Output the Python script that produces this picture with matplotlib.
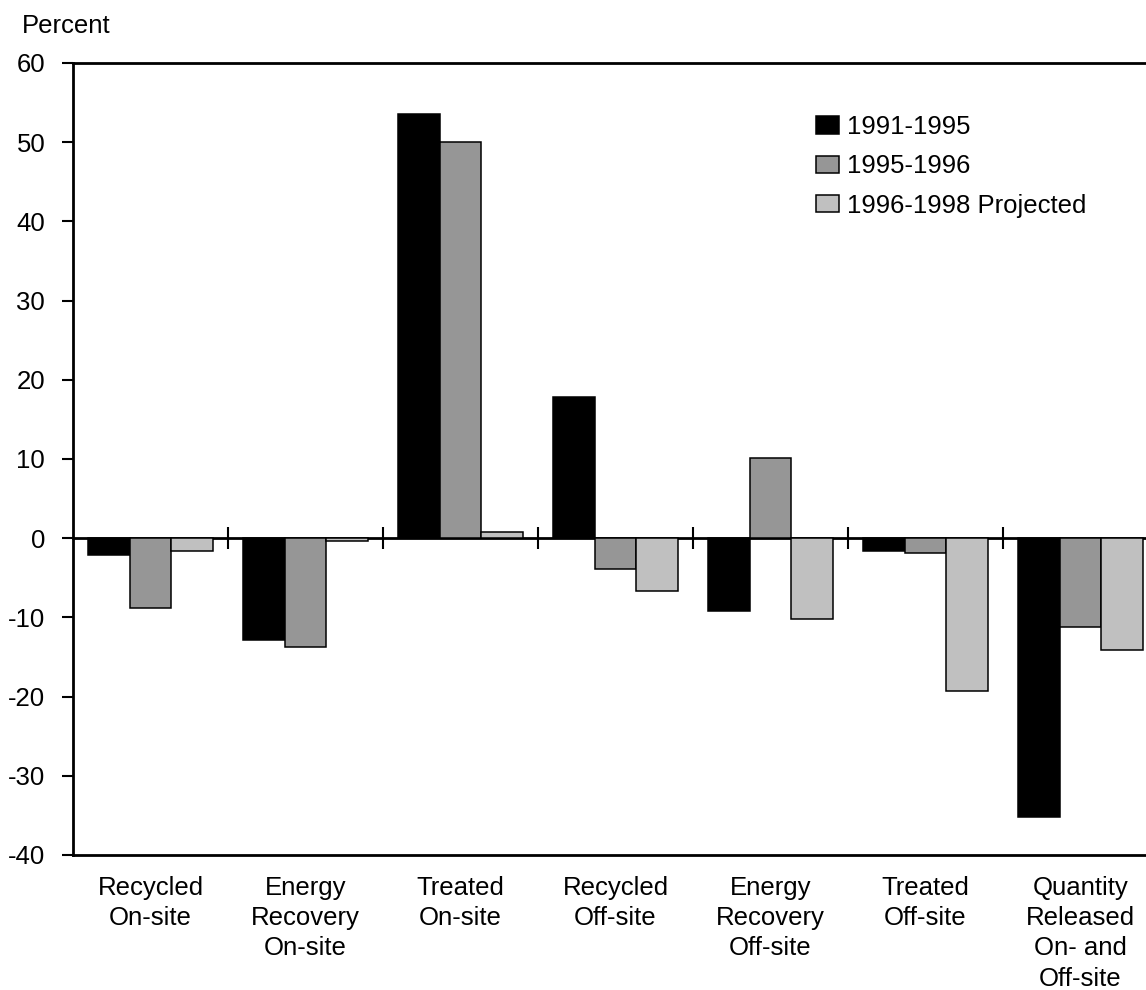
import matplotlib
matplotlib.use("Agg")
import matplotlib.pyplot as plt
import numpy as np

categories = ["Recycled\nOn-site", "Energy\nRecovery\nOn-site", "Treated\nOn-site",
              "Recycled\nOff-site", "Energy\nRecovery\nOff-site", "Treated\nOff-site",
              "Quantity\nReleased\nOn- and\nOff-site"]
series_names = ["1991-1995", "1995-1996", "1996-1998 Projected"]
v_1991_1995 = [-2.1, -12.9, 53.6, 17.8, -9.2, -1.6, -35.2]
v_1995_1996 = [-8.8, -13.8, 50.0, -3.9, 10.1, -1.85, -11.2]
v_1996_1998 = [-1.6, -0.4, 0.75, -6.7, -10.2, -19.3, -14.1]
yticks = [60, 50, 40, 30, 20, 10, 0, -10, -20, -30, -40]
colors = ["#000000", "#969696", "#c0c0c0"]

plt.rcParams['font.family'] = ['Liberation Sans', 'DejaVu Sans']
FS = 18.5

fig = plt.figure(figsize=(11.46, 9.9), dpi=100)
W, H = 1146, 990
left, right, top, bottom = 73, 1158, 63, 855
ax = fig.add_axes([left / W, 1 - bottom / H, (right - left) / W, (bottom - top) / H])

x = np.arange(len(categories))
bw = 0.27
for i, (vals, c, name) in enumerate(zip([v_1991_1995, v_1995_1996, v_1996_1998], colors, series_names)):
    ax.bar(x + (i - 1) * bw, vals, width=bw, color=c, edgecolor="black", linewidth=1.1, label=name, zorder=2)

ax.set_xlim(-0.5, len(categories) - 0.5)
ax.set_ylim(-40, 60)
ax.set_yticks(yticks)
ax.set_yticklabels([str(t) for t in yticks], fontsize=FS)
ax.tick_params(axis='y', direction='out', length=8, width=1.5, pad=12)
ax.set_xticks(x)
ax.set_xticklabels(categories, fontsize=FS, linespacing=1.33, va='top')
ax.tick_params(axis='x', length=0, pad=15)
for s in ax.spines.values():
    s.set_linewidth(2.0)

# zero axis line with category-boundary ticks
sec = ax.secondary_xaxis(0.4)
sec.set_xticks(np.arange(len(categories) - 1) + 0.5)
sec.set_xticklabels([])
sec.tick_params(direction='inout', length=16, width=1.5)
sec.spines['bottom'].set_linewidth(2.0)
sec.spines['bottom'].set_zorder(3)

leg = ax.legend(loc='upper left', bbox_to_anchor=(816 / W, 1 - 115 / H), bbox_transform=fig.transFigure,
                frameon=False, fontsize=FS, handlelength=0.9, handleheight=0.65,
                handletextpad=0.3, labelspacing=0.6, borderpad=0, borderaxespad=0)

fig.text(22 / W, 1 - 33 / H, "Percent", fontsize=FS, ha='left', va='baseline')

fig.savefig("out.png", dpi=100)
